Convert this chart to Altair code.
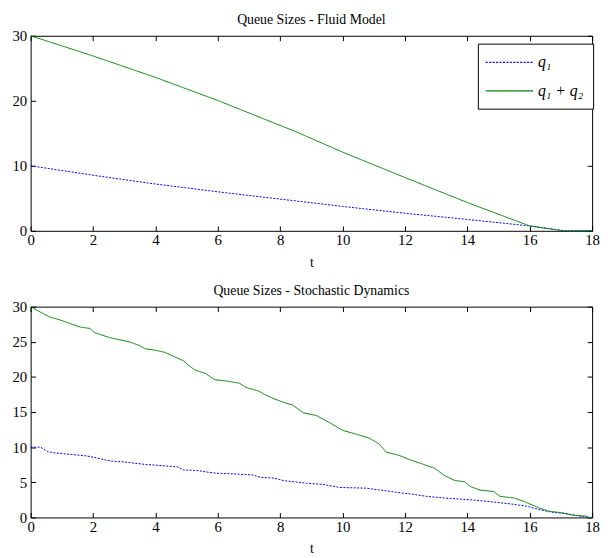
import altair as alt
import pandas as pd

SERIES = ["q₁", "q₁ + q₂"]

# Fluid model
fluid_t = [0, 2, 4, 6, 8.5, 10, 12, 14, 16, 17.1, 18]
fluid_q1 = [10, 8.55, 7.2, 6.0, 4.6, 3.75, 2.7, 1.75, 0.75, 0, 0]
fluid_q12 = [30, 26.9, 23.6, 20.05, 15.25, 12.1, 8.2, 4.35, 0.75, 0, 0]

# Stochastic dynamics
sto_t_q1 = [0, 0.32, 0.53, 0.74, 1.0, 1.79, 2.1, 2.42, 2.63, 3.0, 3.68, 4.0, 4.7, 4.9,
            5.3, 5.75, 5.95, 6.5, 7.1, 7.4, 7.8, 8.1, 8.85, 9.37, 9.9, 10.74, 11.16,
            11.7, 12.2, 12.7, 13.26, 13.8, 14.3, 14.84, 15.4, 15.9, 16.3, 16.7, 17.2,
            17.58, 17.9, 18]
sto_q1 = [10.0, 10.0, 9.4, 9.2, 9.1, 8.76, 8.5, 8.15, 8.0, 7.9, 7.54, 7.45, 7.2, 6.75,
          6.7, 6.4, 6.3, 6.2, 6.05, 5.7, 5.6, 5.25, 4.87, 4.7, 4.27, 4.17, 3.93,
          3.6, 3.33, 3.0, 2.77, 2.6, 2.44, 2.2, 1.92, 1.6, 1.12, 0.76, 0.52,
          0.2, 0, 0]
sto_t_q12 = [0, 0.32, 0.63, 0.95, 1.26, 1.58, 1.9, 2.05, 2.53, 3.16, 3.47, 3.68, 4.0,
             4.3, 4.6, 4.9, 5.05, 5.26, 5.6, 5.9, 6.3, 6.7, 6.9, 7.3, 7.5, 7.8, 8.1,
             8.4, 8.74, 9.16, 9.58, 10.0, 10.4, 10.85, 11.16, 11.4, 11.8, 12.2, 12.5,
             12.95, 13.26, 13.6, 13.9, 14.1, 14.4, 14.84, 15.05, 15.5, 15.8, 16.1,
             16.3, 16.6, 17.05, 17.37, 17.8, 17.9, 18]
sto_q12 = [30, 29.2, 28.5, 28.1, 27.6, 27.1, 26.9, 26.3, 25.6, 25.0, 24.5, 24.0, 23.8,
           23.5, 22.9, 22.3, 21.7, 21.0, 20.5, 19.6, 19.4, 19.1, 18.5, 18.0, 17.5, 16.9,
           16.4, 16.0, 14.9, 14.5, 13.5, 12.4, 11.9, 11.3, 10.5, 9.3, 8.85, 8.15, 7.7,
           7.0, 6.0, 5.25, 5.1, 4.4, 3.9, 3.7, 3.0, 2.77, 2.3, 1.74,
           1.36, 0.9, 0.66, 0.33, 0.2, 0, 0]

x_ticks = list(range(0, 19, 2))

fluid_df = pd.concat([
    pd.DataFrame({"t": fluid_t, "v": fluid_q1, "series": SERIES[0]}),
    pd.DataFrame({"t": fluid_t, "v": fluid_q12, "series": SERIES[1]}),
])
sto_df = pd.concat([
    pd.DataFrame({"t": sto_t_q1, "v": sto_q1, "series": SERIES[0]}),
    pd.DataFrame({"t": sto_t_q12, "v": sto_q12, "series": SERIES[1]}),
])

FONT = "Liberation Serif"
AX = dict(labelFont=FONT, labelFontSize=15, labelColor="black",
          titleFont=FONT, titleFontSize=14, titleFontWeight="normal", titleColor="black")


def panel(df, title, y_ticks, height):
    xs = alt.Scale(domain=[0, 18], nice=False, zero=False)
    ys = alt.Scale(domain=[0, 30], nice=False)
    leg = alt.Legend(
        title=None, orient="none", legendX=454, legendY=8,
        strokeColor="black", fillColor="white", padding=10,
        symbolType="M-3,0H3", symbolSize=256, symbolStrokeWidth=1.2, symbolOffset=13,
        labelFont=FONT, labelFontSize=16, labelFontStyle="italic",
        labelColor="black", labelOffset=20, rowPadding=12,
        cornerRadius=0,
    )
    lines = alt.Chart(df).mark_line(strokeWidth=1).encode(
        x=alt.X("t:Q", scale=xs, axis=alt.Axis(
            values=x_ticks, title="t", offset=-5, tickSize=5, domain=False,
            grid=False, labelPadding=2, titlePadding=8, tickColor="black",
            labelFlush=False, **AX)),
        y=alt.Y("v:Q", scale=ys, axis=alt.Axis(
            values=y_ticks, title=None, offset=-5, tickSize=5, domain=False,
            grid=False, labelPadding=4, tickColor="black", labelFlush=False, **AX)),
        color=alt.Color("series:N", scale=alt.Scale(domain=SERIES, range=["#0000ff", "#008000"]), legend=leg),
        strokeDash=alt.StrokeDash("series:N", scale=alt.Scale(domain=SERIES, range=[[2, 1.5], [1, 0]]), legend=leg),
    )
    frame = alt.Chart(df).mark_line(strokeOpacity=0).encode(
        x=alt.X("t:Q", scale=xs, axis=alt.Axis(
            orient="top", values=x_ticks, labels=False, title=None, offset=-5,
            tickSize=5, domain=False, grid=False, tickColor="black")),
        y=alt.Y("v:Q", scale=ys, axis=alt.Axis(
            orient="right", values=y_ticks, labels=False, title=None, offset=-5,
            tickSize=5, domain=False, grid=False, tickColor="black")),
        detail="series:N",
    )
    return alt.layer(lines, frame).resolve_axis(x="independent", y="independent").properties(
        width=570, height=height,
        title=alt.TitleParams(title, font=FONT, fontSize=14, fontWeight="normal",
                              color="black", anchor="middle", offset=2),
    )


top = panel(fluid_df, "Queue Sizes - Fluid Model", [0, 10, 20, 30], 198)
bottom = panel(sto_df, "Queue Sizes - Stochastic Dynamics", [0, 5, 10, 15, 20, 25, 30], 214)

chart = alt.vconcat(top, bottom, spacing=13).properties(
    padding={"left": 3, "top": 0, "right": 0, "bottom": 0}, background="white"
).configure_view(stroke="black", strokeWidth=1)

chart.save("out.html", embed_options={"renderer": "svg", "actions": False})
